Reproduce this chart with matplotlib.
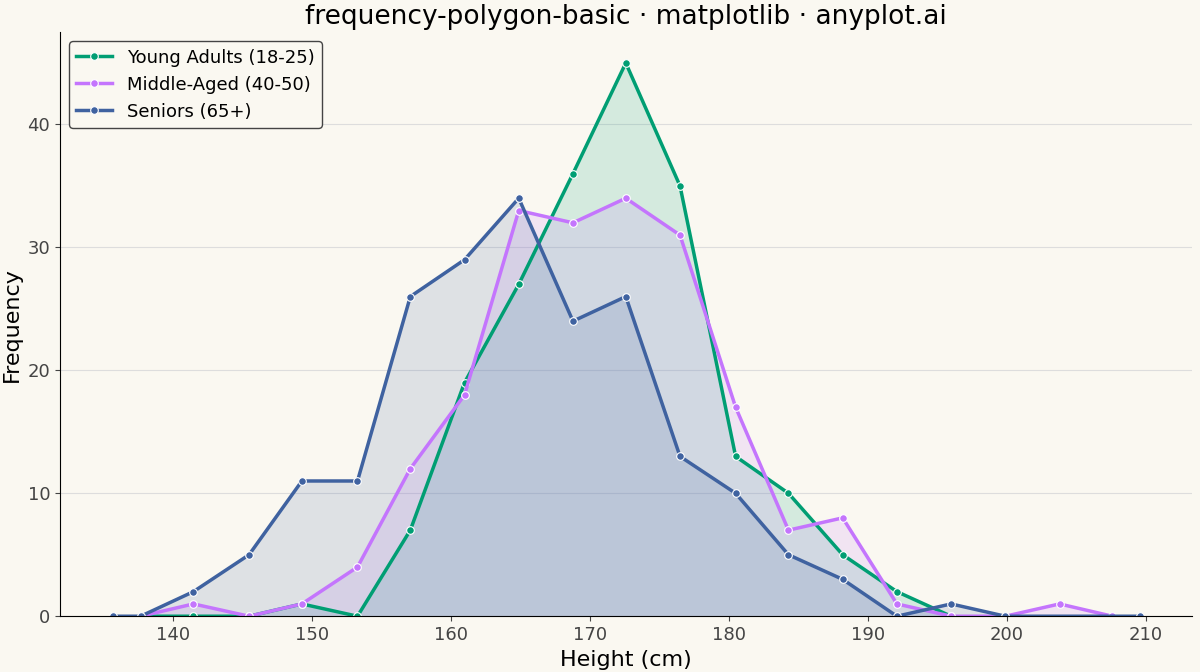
import matplotlib.pyplot as plt

# bin centres (cm) and counts
x_young = [137.7, 141.5, 145.5, 149.3, 153.3, 157.1, 161.0, 164.9, 168.8, 172.6, 176.5, 180.5, 184.3, 188.2, 192.1, 196.0]
y_young = [0, 0, 0, 1, 0, 7, 19, 27, 36, 45, 35, 13, 10, 5, 2, 0]

x_mid = [137.7, 141.5, 145.5, 149.3, 153.3, 157.1, 161.0, 164.9, 168.8, 172.6, 176.5, 180.5, 184.3, 188.2, 192.1, 196.0, 199.9, 203.8, 207.6]
y_mid = [0, 1, 0, 1, 4, 12, 18, 33, 32, 34, 31, 17, 7, 8, 1, 0, 0, 1, 0]

x_sen = [135.7, 137.7, 141.5, 145.5, 149.3, 153.3, 157.1, 161.0, 164.9, 168.8, 172.6, 176.5, 180.5, 184.3, 188.2, 192.1, 196.0, 199.9, 209.6]
y_sen = [0, 0, 2, 5, 11, 11, 26, 29, 34, 24, 26, 13, 10, 5, 3, 0, 1, 0, 0]

series = [
    ("Young Adults (18-25)", x_young, y_young, "#009E73"),
    ("Middle-Aged (40-50)", x_mid, y_mid, "#C475FD"),
    ("Seniors (65+)", x_sen, y_sen, "#3F62A0"),
]

bg = "#FAF8F1"
fig, ax = plt.subplots(figsize=(12, 6.72), dpi=100)
fig.patch.set_facecolor(bg)
ax.set_facecolor(bg)

for name, xs, ys, c in series:
    ax.fill_between(xs, ys, color=c, alpha=0.15, linewidth=0)
    ax.plot(xs, ys, color=c, lw=2.5, marker="o", markersize=5.5,
            markeredgecolor="white", markeredgewidth=0.8, label=name)

ax.set_xlim(131.9, 213.3)
ax.set_ylim(0, 47.5)
ax.set_yticks([0, 10, 20, 30, 40])
ax.grid(axis="y", color="#dddddd", lw=0.8)
ax.set_axisbelow(True)
for s in ["top", "right"]:
    ax.spines[s].set_visible(False)
ax.tick_params(labelsize=13, colors="#444444")
ax.set_xlabel("Height (cm)", fontsize=16)
ax.set_ylabel("Frequency", fontsize=16)
ax.set_title("frequency-polygon-basic · matplotlib · anyplot.ai", fontsize=19)
leg = ax.legend(loc="upper left", fontsize=13, facecolor=bg, edgecolor="#444444")
leg.get_frame().set_alpha(1)

plt.subplots_adjust(left=0.05, right=0.993, bottom=0.083, top=0.952)
plt.savefig("out.png", dpi=100, facecolor=bg)
